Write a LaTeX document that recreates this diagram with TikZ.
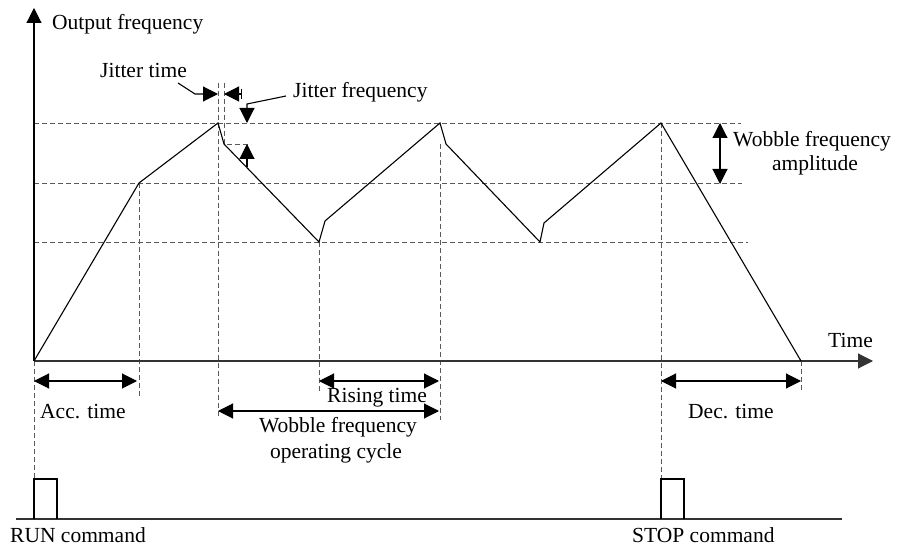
\documentclass[tikz,border=0pt]{standalone}
\usepackage{fontspec}
\setmainfont{Liberation Serif}
\usetikzlibrary{arrows.meta}
\begin{document}
\begin{tikzpicture}[x=1pt,y=-1pt,
  lbl/.style={font=\fontsize{21.5}{24.5}\selectfont, inner sep=0pt},
  wave/.style={line width=1.1pt, line join=miter},
  guide/.style={draw=black!65, dash pattern=on 5pt off 3pt, line width=0.9pt},
  axis/.style={line width=1.1pt, draw=black!80},
  bighead/.tip={Triangle[length=15pt,width=15pt]},
  tipstyle/.style={line width=1.1pt, -bighead},
  dim/.style={line width=1.1pt, bighead-bighead},
]
\useasboundingbox (0,0) rectangle (903,553);
% key points
\coordinate (O) at (34,361);
\coordinate (Ytop) at (34,8);
\coordinate (Xend) at (873,361);
\coordinate (A1) at (139,183);
\coordinate (P1) at (218,123);
\coordinate (J1) at (224,144);
\coordinate (M1) at (319,242);
\coordinate (J2) at (325,221);
\coordinate (P2) at (440,123);
\coordinate (J3) at (446,144);
\coordinate (M2) at (540,242);
\coordinate (J4) at (544,223);
\coordinate (P3) at (661,123);
\coordinate (E) at (801,361);
% horizontal guides
\coordinate (Htop) at (741,123);
\coordinate (Hmid) at (742,183);
\coordinate (Hlow) at (748,242);
\draw[guide] (34,123) -- (Htop);
\draw[guide] (34,183) -- (Hmid);
\draw[guide] (34,242) -- (Hlow);
% vertical guides
\coordinate (RunTop) at (34,479);
\coordinate (StopTop) at (661,479);
\draw[guide] (O) -- (RunTop);
\draw[guide] (A1) -- (139,397);
\draw[guide] (218,83) -- (218,417);
\draw[guide] (224,83) -- (J1) -- (251,144);
\draw[guide] (M1) -- (319,392);
\draw[guide] (J3 -| P2) -- (440,420);
\draw[guide] (P3) -- (StopTop);
\draw[guide] (E) -- (801,390);
% axes
\draw[tipstyle] (O) -- (Ytop);
\draw[axis, -bighead] (O) -- (Xend);
% waveform
\draw[wave] (O) -- (A1) -- (P1) -- (J1) -- (M1) -- (J2) -- (P2) -- (J3) -- (M2) -- (J4) -- (P3) -- (E);
% dimension arrows
\draw[dim] (34,381) -- (137,381);
\draw[dim] (319,381) -- (439,381);
\draw[dim] (218,411) -- (439,411);
\draw[dim] (661,381) -- (801,381);
\draw[dim] (720,123) -- (720,184);
% jitter arrows
\draw[tipstyle] (178,83) -- (195,94) -- (218,94);
\draw[tipstyle] (241,94) -- (224,94);
\draw[line width=0.8pt] (241,89) -- (241,99);
\draw[tipstyle] (286,96) -- (247,104) -- (247,123);
\draw[tipstyle] (247,167) -- (247,144);
% command pulses
\draw[line width=1.1pt, draw=black!80] (16,519) -- (842,519);
\draw[line width=1.1pt] (34,519) -- (RunTop) -- (57,479) -- (57,519);
\draw[line width=1.1pt] (661,519) -- (StopTop) -- (684,479) -- (684,519);
% labels
\node[lbl, anchor=base west] (tOut) at (52,30) {Output frequency};
\node[lbl, anchor=base west] (tJt) at (100,78) {Jitter time};
\node[lbl, anchor=base west] (tJf) at (293,98) {Jitter frequency};
\node[lbl, anchor=base west] (tWa1) at (733,147) {Wobble frequency};
\node[lbl, anchor=base] (tWa2) at (815,171) {amplitude};
\node[lbl, anchor=base west] (tTime) at (828,348) {Time};
\node[lbl, anchor=base west] (tAcc) at (40,419) {Acc. time};
\node[lbl, anchor=base west] (tRise) at (327,403) {Rising time};
\node[lbl, anchor=base] (tWc1) at (338,433) {Wobble frequency};
\node[lbl, anchor=base] (tWc2) at (336,458) {operating cycle};
\node[lbl, anchor=base west] (tDec) at (688,419) {Dec. time};
\node[lbl, anchor=base west] (tRun) at (10,542) {RUN command};
\node[lbl, anchor=base west] (tStop) at (632,542) {STOP command};
\end{tikzpicture}
\end{document}
